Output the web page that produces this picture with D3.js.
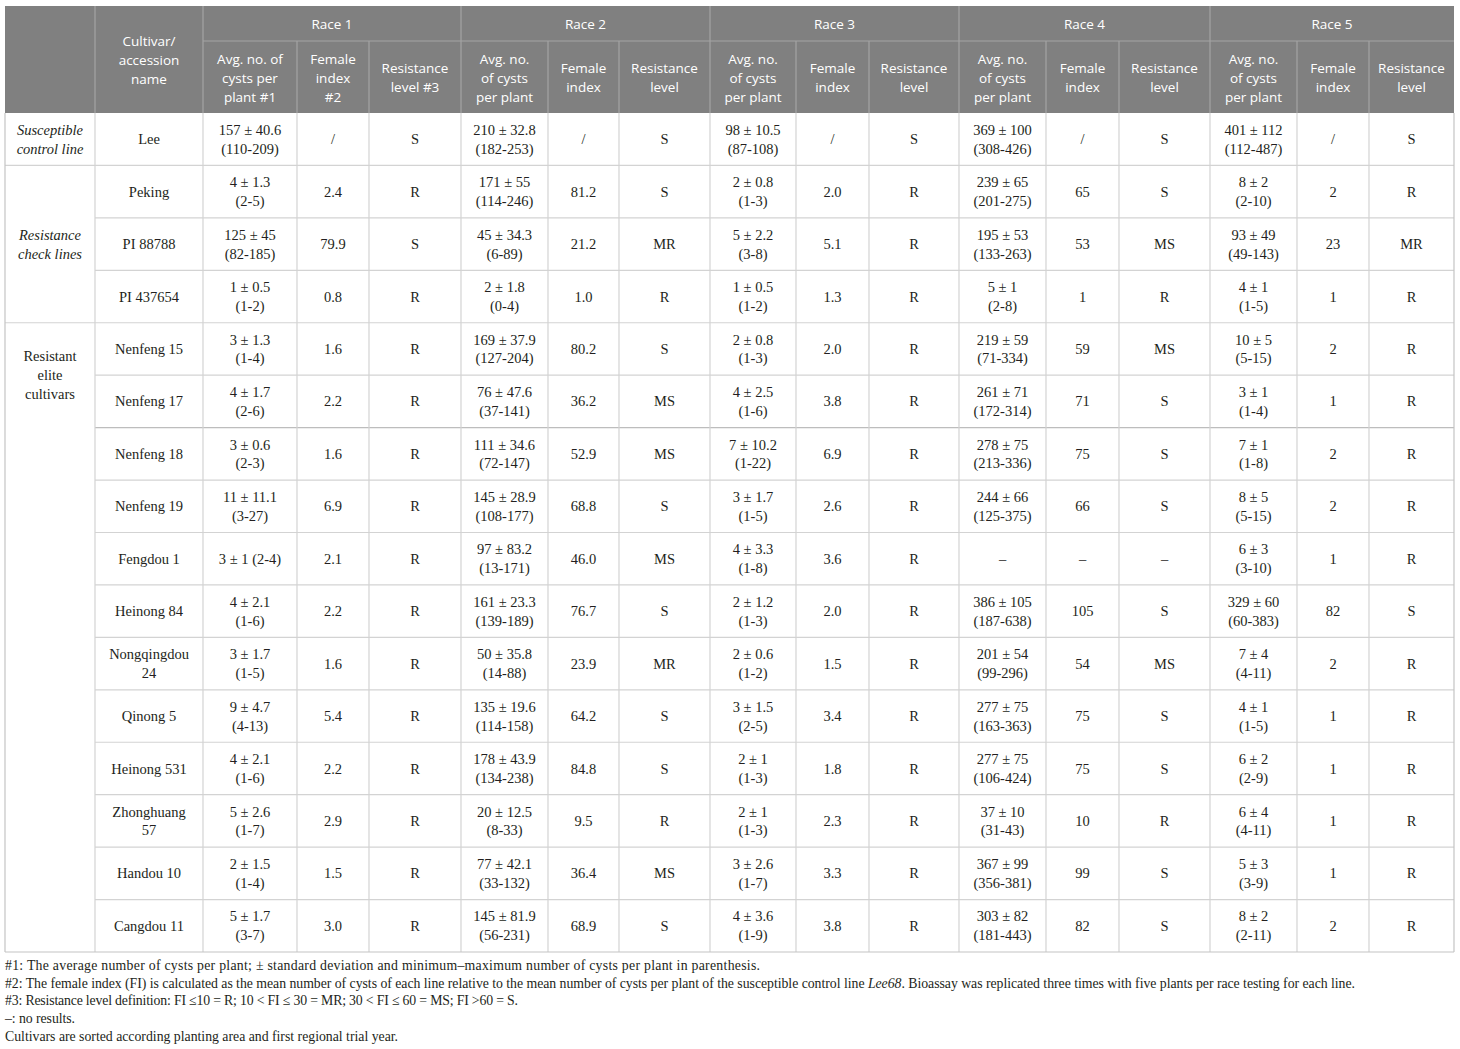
<!DOCTYPE html>
<html><head><meta charset="utf-8">
<script src="https://cdn.jsdelivr.net/npm/d3@7/dist/d3.min.js"></script>
<style>
html,body{margin:0;padding:0;background:#fff;}
svg{display:block;}
</style></head>
<body><svg id="c" width="1460" height="1049"></svg>
<script>
// ---------------- DATA ----------------
const races = ["Race 1", "Race 2", "Race 3", "Race 4", "Race 5"];
const subHeaders1 = [["Avg. no. of", "cysts per", "plant #1"], ["Female", "index", "#2"], ["Resistance", "level #3"]];
const subHeaders = [["Avg. no.", "of cysts", "per plant"], ["Female", "index"], ["Resistance", "level"]];
const cultivarHeader = ["Cultivar/", "accession", "name"];

const groups = [
  { label: ["Susceptible", "control line"], italic: true, start: 0, end: 0 },
  { label: ["Resistance", "check lines"], italic: true, start: 1, end: 3 },
  { label: ["Resistant", "elite", "cultivars"], italic: false, start: 4, end: 15 }
];

const cultivars = [["Lee"], ["Peking"], ["PI 88788"], ["PI 437654"], ["Nenfeng 15"], ["Nenfeng 17"],
  ["Nenfeng 18"], ["Nenfeng 19"], ["Fengdou 1"], ["Heinong 84"], ["Nongqingdou", "24"], ["Qinong 5"],
  ["Heinong 531"], ["Zhonghuang", "57"], ["Handou 10"], ["Cangdou 11"]];

const race1Cysts = [["157 ± 40.6","(110-209)"],["4 ± 1.3","(2-5)"],["125 ± 45","(82-185)"],["1 ± 0.5","(1-2)"],
  ["3 ± 1.3","(1-4)"],["4 ± 1.7","(2-6)"],["3 ± 0.6","(2-3)"],["11 ± 11.1","(3-27)"],["3 ± 1 (2-4)"],
  ["4 ± 2.1","(1-6)"],["3 ± 1.7","(1-5)"],["9 ± 4.7","(4-13)"],["4 ± 2.1","(1-6)"],["5 ± 2.6","(1-7)"],
  ["2 ± 1.5","(1-4)"],["5 ± 1.7","(3-7)"]];
const race1FI = ["/","2.4","79.9","0.8","1.6","2.2","1.6","6.9","2.1","2.2","1.6","5.4","2.2","2.9","1.5","3.0"];
const race1Level = ["S","R","S","R","R","R","R","R","R","R","R","R","R","R","R","R"];

const race2Cysts = [["210 ± 32.8","(182-253)"],["171 ± 55","(114-246)"],["45 ± 34.3","(6-89)"],["2 ± 1.8","(0-4)"],
  ["169 ± 37.9","(127-204)"],["76 ± 47.6","(37-141)"],["111 ± 34.6","(72-147)"],["145 ± 28.9","(108-177)"],
  ["97 ± 83.2","(13-171)"],["161 ± 23.3","(139-189)"],["50 ± 35.8","(14-88)"],["135 ± 19.6","(114-158)"],
  ["178 ± 43.9","(134-238)"],["20 ± 12.5","(8-33)"],["77 ± 42.1","(33-132)"],["145 ± 81.9","(56-231)"]];
const race2FI = ["/","81.2","21.2","1.0","80.2","36.2","52.9","68.8","46.0","76.7","23.9","64.2","84.8","9.5","36.4","68.9"];
const race2Level = ["S","S","MR","R","S","MS","MS","S","MS","S","MR","S","S","R","MS","S"];

const race3Cysts = [["98 ± 10.5","(87-108)"],["2 ± 0.8","(1-3)"],["5 ± 2.2","(3-8)"],["1 ± 0.5","(1-2)"],
  ["2 ± 0.8","(1-3)"],["4 ± 2.5","(1-6)"],["7 ± 10.2","(1-22)"],["3 ± 1.7","(1-5)"],["4 ± 3.3","(1-8)"],
  ["2 ± 1.2","(1-3)"],["2 ± 0.6","(1-2)"],["3 ± 1.5","(2-5)"],["2 ± 1","(1-3)"],["2 ± 1","(1-3)"],
  ["3 ± 2.6","(1-7)"],["4 ± 3.6","(1-9)"]];
const race3FI = ["/","2.0","5.1","1.3","2.0","3.8","6.9","2.6","3.6","2.0","1.5","3.4","1.8","2.3","3.3","3.8"];
const race3Level = ["S","R","R","R","R","R","R","R","R","R","R","R","R","R","R","R"];

const race4Cysts = [["369 ± 100","(308-426)"],["239 ± 65","(201-275)"],["195 ± 53","(133-263)"],["5 ± 1","(2-8)"],
  ["219 ± 59","(71-334)"],["261 ± 71","(172-314)"],["278 ± 75","(213-336)"],["244 ± 66","(125-375)"],["–"],
  ["386 ± 105","(187-638)"],["201 ± 54","(99-296)"],["277 ± 75","(163-363)"],["277 ± 75","(106-424)"],
  ["37 ± 10","(31-43)"],["367 ± 99","(356-381)"],["303 ± 82","(181-443)"]];
const race4FI = ["/","65","53","1","59","71","75","66","–","105","54","75","75","10","99","82"];
const race4Level = ["S","S","MS","R","MS","S","S","S","–","S","MS","S","S","R","S","S"];

const race5Cysts = [["401 ± 112","(112-487)"],["8 ± 2","(2-10)"],["93 ± 49","(49-143)"],["4 ± 1","(1-5)"],
  ["10 ± 5","(5-15)"],["3 ± 1","(1-4)"],["7 ± 1","(1-8)"],["8 ± 5","(5-15)"],["6 ± 3","(3-10)"],
  ["329 ± 60","(60-383)"],["7 ± 4","(4-11)"],["4 ± 1","(1-5)"],["6 ± 2","(2-9)"],["6 ± 4","(4-11)"],
  ["5 ± 3","(3-9)"],["8 ± 2","(2-11)"]];
const race5FI = ["/","2","23","1","2","1","2","2","1","82","2","1","1","1","1","2"];
const race5Level = ["S","R","MR","R","R","R","R","R","R","S","R","R","R","R","R","R"];

const footnotes = [
  [["#1: The average number of cysts per plant; ± standard deviation and minimum–maximum number of cysts per plant in parenthesis.", false]],
  [["#2: The female index (FI) is calculated as the mean number of cysts of each line relative to the mean number of cysts per plant of the susceptible control line ", false], ["Lee68", true], [". Bioassay was replicated three times with five plants per race testing for each line.", false]],
  [["#3: Resistance level definition: FI ≤10 = R; 10 < FI ≤ 30 = MR; 30 < FI ≤ 60 = MS; FI >60 = S.", false]],
  [["–: no results.", false]],
  [["Cultivars are sorted according planting area and first regional trial year.", false]]
];

// ---------------- LAYOUT ----------------
const raceData = [
  [race1Cysts, race1FI, race1Level], [race2Cysts, race2FI, race2Level], [race3Cysts, race3FI, race3Level],
  [race4Cysts, race4FI, race4Level], [race5Cysts, race5FI, race5Level]
];
const colEdges = [5, 95, 203, 297, 369, 461, 548, 619, 710, 796, 869, 959, 1046, 1119, 1210, 1297, 1369, 1454];
const colX = d3.scaleOrdinal().domain(d3.range(colEdges.length)).range(colEdges);
const colMid = i => (colX(i) + colX(i + 1)) / 2;

const headTop = 6, headMid = 41, headBot = 113, tableBot = 952;
const y = d3.scaleBand().domain(d3.range(cultivars.length)).range([headBot, tableBot]);
const rowMid = i => y(i) + y.bandwidth() / 2;
const LH = 18.8;

const svg = d3.select("#c");
svg.append("rect").attr("width", 1460).attr("height", 1049).attr("fill", "#fff");

const serif = "'Liberation Serif', 'Times New Roman', serif";
const sans = "'Open Sans', 'Noto Sans', sans-serif";
const bodyColor = "#231f20";
const gridColor = "#d3d3d3";

// header background
svg.append("rect").attr("x", colX(0)).attr("y", headTop).attr("width", colX(17) - colX(0))
  .attr("height", headBot - headTop).attr("fill", "#808080");

const hl = svg.append("g").attr("stroke", "#a3a3a3").attr("stroke-width", 1.2);
[1, 2, 5, 8, 11, 14].forEach(i => hl.append("line").attr("x1", colX(i)).attr("x2", colX(i)).attr("y1", headTop).attr("y2", headBot));
d3.range(2, 17).filter(i => (i - 2) % 3 !== 0).forEach(i =>
  hl.append("line").attr("x1", colX(i)).attr("x2", colX(i)).attr("y1", headMid).attr("y2", headBot));
hl.append("line").attr("x1", colX(2)).attr("x2", colX(17)).attr("y1", headMid).attr("y2", headMid);

function multiText(g, lines, x, cy, opts) {
  const t = g.append("text").attr("x", x).attr("text-anchor", "middle")
    .attr("font-family", opts.font).attr("font-size", opts.size).attr("fill", opts.fill)
    .attr("font-style", opts.italic ? "italic" : "normal");
  const n = lines.length;
  lines.forEach((l, k) => {
    t.append("tspan").attr("x", x).attr("y", cy + (k - (n - 1) / 2) * LH).attr("dy", "0.35em").text(l);
  });
  return t;
}

const ht = svg.append("g");
const hOpt = { font: sans, size: 13.5, fill: "#fff" };
multiText(ht, cultivarHeader, colMid(1), (headTop + headBot) / 2 + 1, hOpt);
races.forEach((r, ri) => {
  const c0 = 2 + ri * 3;
  multiText(ht, [r], (colX(c0) + colX(c0 + 3)) / 2, (headTop + headMid) / 2 + 1, hOpt);
  const subs = ri === 0 ? subHeaders1 : subHeaders;
  subs.forEach((s, si) => multiText(ht, s, colMid(c0 + si), (headMid + headBot) / 2 + 1, hOpt));
});

// body grid
const gl = svg.append("g").attr("stroke", gridColor).attr("stroke-width", 1.2).attr("fill", "none");
cultivars.forEach((c, i) => {
  if (i === 0) return;
  const isGroupStart = groups.some(g => g.start === i);
  gl.append("line").attr("x1", isGroupStart ? colX(0) : colX(1)).attr("x2", colX(17))
    .attr("y1", y(i)).attr("y2", y(i)).attr("stroke", i === 6 ? "#bdbdbd" : gridColor);
});
d3.range(1, 17).forEach(i => gl.append("line").attr("x1", colX(i)).attr("x2", colX(i)).attr("y1", headBot).attr("y2", tableBot));
gl.append("line").attr("x1", colX(0)).attr("x2", colX(0)).attr("y1", headBot).attr("y2", tableBot).attr("stroke", "#c4c4c4");
gl.append("line").attr("x1", colX(17)).attr("x2", colX(17)).attr("y1", headBot).attr("y2", tableBot).attr("stroke", "#c4c4c4");
gl.append("line").attr("x1", colX(0)).attr("x2", colX(17)).attr("y1", tableBot).attr("y2", tableBot).attr("stroke", "#c4c4c4");

// body text
const bt = svg.append("g");
const bOpt = { font: serif, size: 14.5, fill: bodyColor };
groups.forEach(g => {
  let cy;
  if (g.italic) cy = (y(g.start) + y(g.end) + y.bandwidth()) / 2;
  else cy = y(g.start) + y.bandwidth();
  multiText(bt, g.label, colMid(0), cy, Object.assign({}, bOpt, { italic: g.italic }));
});
cultivars.forEach((c, i) => {
  multiText(bt, c, colMid(1), rowMid(i), bOpt);
  raceData.forEach((rd, ri) => {
    const c0 = 2 + ri * 3;
    multiText(bt, rd[0][i], colMid(c0), rowMid(i), bOpt);
    multiText(bt, [rd[1][i]], colMid(c0 + 1), rowMid(i), bOpt);
    multiText(bt, [rd[2][i]], colMid(c0 + 2), rowMid(i), bOpt);
  });
});

// footnotes
const footWidths = [755, 1350, 513, 70, 393];
const ft = svg.append("g");
footnotes.forEach((parts, k) => {
  const t = ft.append("text").attr("x", 5).attr("y", 965 + k * 17.8).attr("dy", "0.35em")
    .attr("font-family", serif).attr("font-size", 13.8).attr("fill", bodyColor)
    .attr("textLength", footWidths[k]).attr("lengthAdjust", "spacing");
  parts.forEach(p => t.append("tspan").attr("font-style", p[1] ? "italic" : "normal").text(p[0]));
});
</script>
</body></html>
